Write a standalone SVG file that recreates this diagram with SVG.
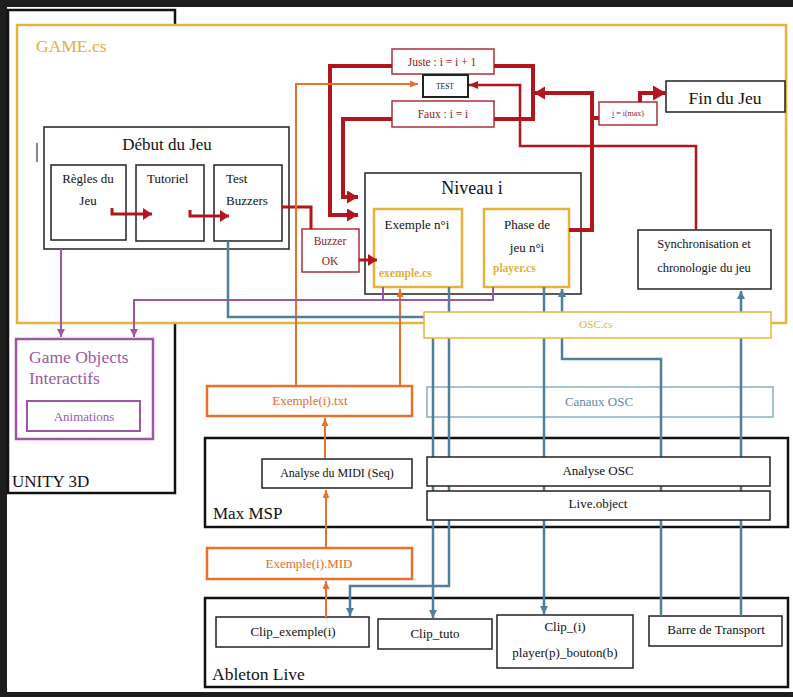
<svg xmlns="http://www.w3.org/2000/svg" width="793" height="697" viewBox="0 0 793 697">
<style>
text{font-family:"Liberation Serif","Times New Roman",serif;fill:#111}
.b{fill:none;stroke:#222;stroke-width:1.5}
.bw{fill:#fff;stroke:#222;stroke-width:1.5}
.big{fill:none;stroke:#111;stroke-width:2.5}
.y{fill:#fff;stroke:#E6B43A;stroke-width:2.5}
.yl{fill:#fff;stroke:#E6B43A;stroke-width:1.5}
.rb{fill:#fff;stroke:#A83038;stroke-width:1.5}
.ob{fill:#fff;stroke:#E8722C;stroke-width:2.5}
.pb{fill:#fff;stroke:#9E56A6;stroke-width:2.5}
.cb{fill:none;stroke:#86AFC4;stroke-width:1.5}
.c{text-anchor:middle}
.yt{fill:#E2B03A}
.ot{fill:#E46C2A}
.pt{fill:#9A5AA0}
.rt{fill:#8E1B22}
.bt{fill:#5B8AA6}
.rk{fill:none;stroke:#B3151E;stroke-width:4}
.rm{fill:none;stroke:#B3151E;stroke-width:3}
.rn{fill:none;stroke:#B3151E;stroke-width:2.5}
.or{fill:none;stroke:#E8722C;stroke-width:2}
.bl{fill:none;stroke:#4F7F9A;stroke-width:2.5}
.pu{fill:none;stroke:#9E56A6;stroke-width:2}
</style>
<defs>
<marker id="ar" markerUnits="userSpaceOnUse" markerWidth="12" markerHeight="14" refX="11" refY="6.5" orient="auto"><path d="M0,0 L11,6.5 L0,13 z" fill="#B3151E"/></marker>
<marker id="arb" markerUnits="userSpaceOnUse" markerWidth="14" markerHeight="16" refX="13" refY="7.5" orient="auto"><path d="M0,0 L13,7.5 L0,15 z" fill="#B3151E"/></marker>
<marker id="ars" markerUnits="userSpaceOnUse" markerWidth="10" markerHeight="13" refX="9" refY="6" orient="auto"><path d="M0,0 L9,6 L0,12 z" fill="#B3151E"/></marker>
<marker id="art" markerUnits="userSpaceOnUse" markerWidth="10" markerHeight="9" refX="9" refY="4" orient="auto"><path d="M0,0 L9,4 L0,8 z" fill="#B3151E"/></marker>
<marker id="ao" markerUnits="userSpaceOnUse" markerWidth="9" markerHeight="8" refX="8" refY="3.5" orient="auto"><path d="M0,0 L8,3.5 L0,7 z" fill="#E8722C"/></marker>
<marker id="ab" markerUnits="userSpaceOnUse" markerWidth="9" markerHeight="9" refX="8" refY="4" orient="auto"><path d="M0,0 L8,4 L0,8 z" fill="#4F7F9A"/></marker>
<marker id="ap" markerUnits="userSpaceOnUse" markerWidth="9" markerHeight="9" refX="8" refY="4" orient="auto"><path d="M0,0 L8,4 L0,8 z" fill="#9E56A6"/></marker>
</defs>
<rect x="0" y="0" width="793" height="697" fill="#1e1e1e"/>
<rect x="7" y="7" width="786" height="685" fill="#fff"/>

<g id="unity"><rect x="8" y="10" width="167" height="483" class="big"/><text x="12" y="487" font-size="17">UNITY 3D</text></g>
<g id="game"><rect x="17" y="25" width="769" height="298" class="y"/><text x="36" y="52" font-size="17.5" class="yt">GAME.cs</text></g>

<g id="debut"><rect x="44" y="127" width="245" height="122" class="b"/><text x="167" y="150" font-size="17" class="c">Début du Jeu</text><line x1="37" y1="143" x2="37" y2="162" stroke="#111" stroke-width="1"/></g>
<g id="regles"><rect x="51" y="165" width="75" height="75" class="b"/><text x="88" y="183" font-size="13" class="c">Règles du</text><text x="88" y="205" font-size="13" class="c">Jeu</text></g>
<g id="tutoriel"><rect x="136" y="165" width="68" height="76" class="b"/><text x="147" y="183" font-size="13">Tutoriel</text></g>
<g id="testbuzzers"><rect x="214" y="165" width="68" height="76" class="b"/><text x="226" y="183" font-size="13">Test</text><text x="226" y="205" font-size="13">Buzzers</text></g>

<g id="niveau"><rect x="365" y="173" width="216" height="121" class="b"/><text x="472" y="194" font-size="18" class="c">Niveau i</text></g>
<g id="exemple"><rect x="374" y="209" width="88" height="78" class="y"/><text x="417" y="229" font-size="13" class="c">Exemple n°i</text><text x="379" y="277" font-size="11.5" font-weight="bold" class="yt">exemple.cs</text></g>
<g id="phase"><rect x="484" y="209" width="85" height="78" class="y"/><text x="527" y="229" font-size="13" class="c">Phase de</text><text x="527" y="252" font-size="13" class="c">jeu n°i</text><text x="493" y="272" font-size="11.5" font-weight="bold" class="yt">player.cs</text></g>
<g id="sync"><rect x="638" y="230" width="133" height="59" class="b"/><text x="704" y="248" font-size="12.5" class="c">Synchronisation et</text><text x="704" y="272" font-size="12.5" class="c">chronologie du jeu</text></g>
<g id="fin"><rect x="666" y="81" width="119" height="31" class="b"/><text x="725" y="104" font-size="17.5" class="c">Fin du Jeu</text></g>
<g id="juste"><rect x="392" y="49" width="102" height="25" class="rb"/><text x="442" y="66" font-size="11.5" class="c rt">Juste : i = i + 1</text></g>
<g id="test"><rect x="423" y="75" width="45" height="22" fill="#fff" stroke="#222" stroke-width="2"/><text x="445" y="89" font-size="7.5" class="c">TEST</text></g>
<g id="faux"><rect x="392" y="101" width="102" height="26" class="rb"/><text x="443" y="118" font-size="11.5" class="c rt">Faux : i = i</text></g>
<g id="imax"><rect x="599" y="102" width="58" height="23" class="rb"/><text x="628" y="116" font-size="8" class="c rt"><tspan fill="#2B4FB0" text-decoration="underline">i</tspan> = i(max)</text></g>
<g id="buzzerok"><rect x="302" y="229" width="57" height="43" class="rb"/><text x="330" y="245" font-size="11.5" class="c rt">Buzzer</text><text x="330" y="265" font-size="11.5" class="c rt">OK</text></g>

<g id="gameobjects"><rect x="16" y="339" width="137" height="100" class="pb"/><text x="29" y="363" font-size="17.5" class="pt">Game Objects</text><text x="29" y="384" font-size="17.5" class="pt">Interactifs</text></g>
<g id="animations"><rect x="27" y="401" width="113" height="30" fill="#fff" stroke="#9E56A6" stroke-width="2"/><text x="84" y="421" font-size="13" class="c pt">Animations</text></g>

<g id="exempletxt"><rect x="207" y="386" width="205" height="30" class="ob"/><text x="310" y="405" font-size="13" class="c ot">Exemple(i).txt</text></g>
<g id="canaux"><rect x="427" y="387" width="346" height="30" class="cb"/><text x="599" y="406" font-size="13" class="c bt">Canaux OSC</text></g>
<g id="maxmsp"><rect x="205" y="438" width="583" height="89" class="big"/><text x="213" y="519" font-size="17">Max MSP</text></g>
<g id="analysemidi"><rect x="262" y="459" width="150" height="29" class="b"/><text x="337" y="477" font-size="12" class="c">Analyse du MIDI (Seq)</text></g>
<g id="exemplemid"><rect x="207" y="548" width="205" height="31" class="ob"/><text x="309" y="568" font-size="13" class="c ot">Exemple(i).MID</text></g>
<g id="ableton"><rect x="205" y="598" width="583" height="89" class="big"/><text x="212" y="680" font-size="17.5">Ableton Live</text></g>
<g id="clipexemple"><rect x="216" y="617" width="153" height="30" class="b"/><text x="293" y="636" font-size="13" class="c">Clip_exemple(i)</text></g>
<g id="cliptuto"><rect x="378" y="619" width="114" height="30" class="b"/><text x="435" y="638" font-size="13" class="c">Clip_tuto</text></g>
<g id="clipi"><rect x="497" y="615" width="136" height="53" class="b"/><text x="565" y="631" font-size="13" class="c">Clip_(i)</text><text x="565" y="657" font-size="13" class="c">player(p)_bouton(b)</text></g>
<g id="barre"><rect x="649" y="616" width="133" height="30" class="b"/><text x="716" y="634" font-size="13" class="c">Barre de Transport</text></g>

<g id="connectors">
<path class="rk" d="M392,66 H330 V215 H358" marker-end="url(#ar)"/>
<path class="rk" d="M392,119 H343 V197 H358" marker-end="url(#ar)"/>
<path class="rk" d="M494,66 H533 V119 H494"/>
<path class="rk" d="M569,230 H592 V93 H534" marker-end="url(#ar)"/>
<path class="rk" d="M592,118 H599"/>
<path class="rk" d="M640,102 V93 H666" marker-end="url(#arb)"/>
<path class="rm" d="M112,208 V214 H152" marker-end="url(#ars)"/>
<path class="rm" d="M190,210 V216 H229" marker-end="url(#ars)"/>
<path class="rm" d="M282,207 H311 V229"/>
<path class="rm" d="M359,260 H377" marker-end="url(#ars)"/>
<path class="rn" d="M696,230 V146 H520 V85 H469" marker-end="url(#art)"/>
<path class="or" d="M296,386 V84 H418" marker-end="url(#ao)"/>
<path class="or" d="M400,386 V289" marker-end="url(#ao)"/>
<path class="or" d="M325,458 V418" marker-end="url(#ao)"/>
<path class="or" d="M326,548 V490" marker-end="url(#ao)"/>
<path class="or" d="M326,617 V581" marker-end="url(#ao)"/>
<path class="bl" d="M228,241 V317 H424"/>
<path class="bl" d="M433,317 V618" marker-end="url(#ab)"/>
<path class="bl" d="M449,287 V586 H350 V616" marker-end="url(#ab)"/>
<path class="bl" d="M544,287 V614" marker-end="url(#ab)"/>
<path class="bl" d="M661,616 V359 H562 V289" marker-end="url(#ab)"/>
<path class="bl" d="M741,616 V291" marker-end="url(#ab)"/>
<path class="pu" d="M61,249 V337" marker-end="url(#ap)"/>
<path class="pu" d="M493,287 V300 H134 V337" marker-end="url(#ap)"/>
<path class="pu" d="M383,287 V300"/>
</g>

<g id="osccs"><rect x="424" y="312" width="347" height="26" class="yl"/><text x="596" y="328" font-size="11" class="c yt">OSC.cs</text></g>
<g id="analyseosc"><rect x="427" y="457" width="343" height="29" class="bw"/><text x="598" y="475" font-size="13" class="c">Analyse OSC</text></g>
<g id="liveobject"><rect x="427" y="491" width="343" height="29" class="bw"/><text x="598" y="508" font-size="13" class="c">Live.object</text></g>
</svg>
